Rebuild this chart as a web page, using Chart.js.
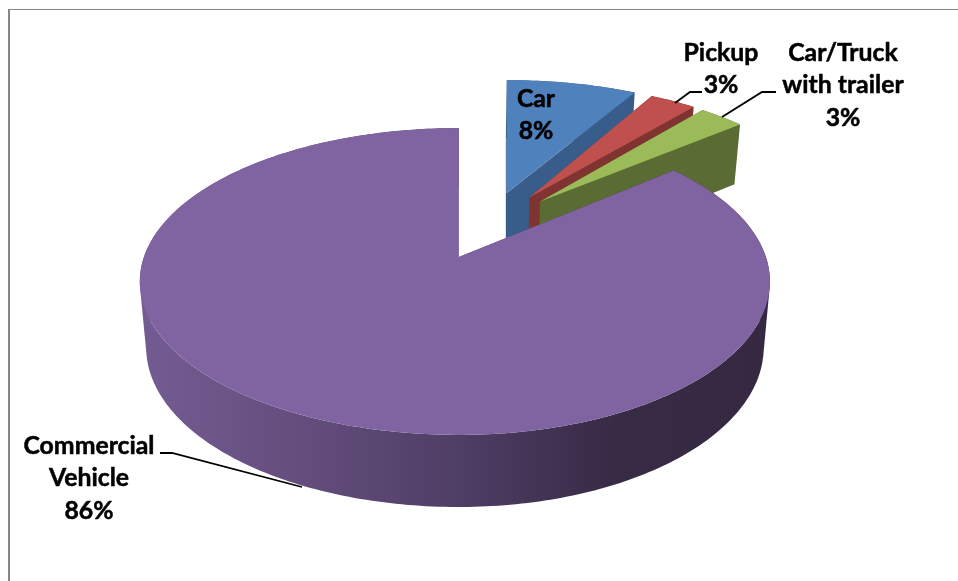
<!DOCTYPE html>
<html>
<head>
<meta charset="utf-8">
<title>Vehicle share</title>
<script src="https://cdn.jsdelivr.net/npm/chart.js@4"></script>
<style>
  html, body { margin: 0; padding: 0; background: #fff; overflow: hidden; }
  canvas { display: block; }
</style>
</head>
<body>
<canvas id="grafico" width="958" height="581"></canvas>
<script>
// =====================================================
// DATA
// =====================================================
const categories = ['Car', 'Pickup', 'Car/Truck with trailer', 'Commercial Vehicle'];
const shares = [8, 3, 3, 86];
const labelLines = [['Car'], ['Pickup'], ['Car/Truck', 'with trailer'], ['Commercial', 'Vehicle']];

const topColors = ['#4f81bd', '#c0504d', '#9bbb59', '#8064a2'];
const sideColors = ['#385d8a', '#7f3431', '#5a6b33', null];

// =====================================================
// 3D VIEW — perspective of the pie plane, fitted to the picture
// =====================================================
const VIEW = { x: 459, y: 257, u0: -0.104, v0: 0.222, k: 0.16, rLeft: 315, rRight: 307, ry: 149.5 };
const EXPLODE = 0.245;
const BASE = { x: 459, y: 322, sx: 0.98, sy: 1.04 };
// small horizontal correction per slice, the picture's perspective is not a clean one
const sliceStretch = [1.05, 1, 0.985, 1];

function projetar(ou, ov, u, v, stretch) {
  const V = ov + v - VIEW.v0;
  const d = 1 - VIEW.k * V;
  const apexX = VIEW.x + 311 * (ou - VIEW.u0) / (1 - VIEW.k * (ov - VIEW.v0));
  const r = (u < 0 ? VIEW.rLeft : VIEW.rRight) * stretch;
  return { x: apexX + r * u / d, y: VIEW.y + VIEW.ry * V / d };
}

function paraBase(p) {
  return {
    x: BASE.x + (p.x - VIEW.x) * BASE.sx,
    y: BASE.y + (p.y - VIEW.y) * BASE.sy,
  };
}

function contornoFatia(start, end, stretch) {
  const mid = (start + end) / 2;
  const ou = Math.cos(mid) * EXPLODE;
  const ov = Math.sin(mid) * EXPLODE;
  const pts = [projetar(ou, ov, 0, 0, stretch)];
  const passos = Math.max(8, Math.round((end - start) * 60));
  for (let i = 0; i <= passos; i++) {
    const a = start + (end - start) * i / passos;
    pts.push(projetar(ou, ov, Math.cos(a), Math.sin(a), stretch));
  }
  return pts;
}

function gradienteLateral(ctx) {
  const g = ctx.createLinearGradient(140, 0, 770, 0);
  g.addColorStop(0, '#735c92');
  g.addColorStop(0.25, '#654e7d');
  g.addColorStop(0.5, '#4f3e66');
  g.addColorStop(0.75, '#382b45');
  g.addColorStop(1, '#352840');
  return g;
}

// The pie controller calls this for every slice, in data order (back to front here)
Chart.ArcElement.prototype.draw = function (ctx) {
  const idx = this.$context.dataIndex;
  const pts = contornoFatia(this.startAngle, this.endAngle, sliceStretch[idx]);

  ctx.save();
  ctx.fillStyle = sideColors[idx] || gradienteLateral(ctx);
  ctx.beginPath();
  pts.forEach((p, i) => {
    const q = pts[(i + 1) % pts.length];
    let quad = [p, q, paraBase(q), paraBase(p)];
    let area = 0;
    quad.forEach((a, j) => {
      const b = quad[(j + 1) % 4];
      area += a.x * b.y - b.x * a.y;
    });
    if (area < 0) quad = quad.reverse();
    quad.forEach((a, j) => (j ? ctx.lineTo(a.x, a.y) : ctx.moveTo(a.x, a.y)));
    ctx.closePath();
  });
  ctx.fill();

  ctx.fillStyle = this.options.backgroundColor;
  ctx.beginPath();
  pts.forEach((p, i) => (i ? ctx.lineTo(p.x, p.y) : ctx.moveTo(p.x, p.y)));
  ctx.closePath();
  ctx.fill();
  ctx.restore();
};

// =====================================================
// LABELS, LEADER LINES, FRAME
// =====================================================
const labelPos = [
  { x: 536, y: 99 },
  { x: 721, y: 53 },
  { x: 843, y: 53 },
  { x: 89, y: 446 },
];
const leaders = [
  null,
  [[702, 92], [690, 92], [675, 103]],
  [[776, 92], [762, 92], [722, 117]],
  [[160, 453], [172, 453], [302, 487]],
];
const LINE_H = 32.5;

const extras = {
  id: 'extras',
  beforeDraw(chart) {
    const { ctx } = chart;
    ctx.save();
    ctx.fillStyle = '#868686';
    ctx.fillRect(8, 9, 2, 572);
    ctx.fillRect(8, 9, 950, 1);
    ctx.restore();
  },
  afterDatasetsDraw(chart) {
    const { ctx } = chart;
    ctx.save();
    ctx.strokeStyle = '#000';
    ctx.lineWidth = 1.8;
    leaders.forEach((l) => {
      if (!l) return;
      ctx.beginPath();
      l.forEach((p, i) => (i ? ctx.lineTo(p[0], p[1]) : ctx.moveTo(p[0], p[1])));
      ctx.stroke();
    });
    ctx.fillStyle = '#000';
    ctx.lineWidth = 0.5;
    ctx.lineJoin = 'round';
    ctx.font = 'bold 24.8px Lato';
    ctx.textAlign = 'center';
    ctx.textBaseline = 'middle';
    labelLines.forEach((linhas, i) => {
      const pos = labelPos[i];
      [...linhas, `${shares[i]}%`].forEach((txt, j) => {
        ctx.fillText(txt, pos.x, pos.y + j * LINE_H);
        ctx.strokeText(txt, pos.x, pos.y + j * LINE_H);
      });
    });
    ctx.restore();
  },
};

// =====================================================
// CHART
// =====================================================
new Chart(document.getElementById('grafico'), {
  type: 'pie',
  data: {
    labels: categories,
    datasets: [{ data: shares, backgroundColor: topColors, borderWidth: 0 }],
  },
  options: {
    responsive: false,
    animation: false,
    plugins: { legend: { display: false }, tooltip: { enabled: false } },
  },
  plugins: [extras],
});
</script>
</body>
</html>
